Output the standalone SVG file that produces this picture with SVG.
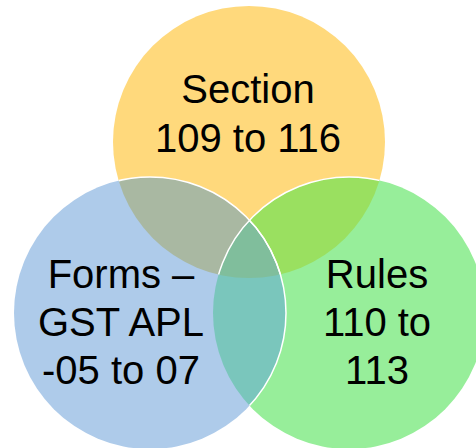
<svg xmlns="http://www.w3.org/2000/svg" width="476" height="448" viewBox="0 0 476 448">
  <style>
    .lbl { font-family: "Liberation Sans", Arial, sans-serif; font-size: 40px; fill: #000; text-anchor: middle; }
    .edge { fill: none; stroke: #fff; stroke-width: 1.5; }
  </style>
  <defs>
    <circle id="cTop" cx="249" cy="142" r="136"/>
    <circle id="cLeft" cx="150" cy="313" r="136"/>
    <circle id="cRight" cx="349" cy="313" r="136"/>
    <clipPath id="clipTop"><use href="#cTop"/></clipPath>
    <clipPath id="clipRight"><use href="#cRight"/></clipPath>
  </defs>
  <rect width="476" height="448" fill="#fff"/>

  <!-- base circles -->
  <g id="section">
    <use href="#cTop" fill="#FFD97C"/>
  </g>
  <g id="rules">
    <use href="#cRight" fill="#97EE9A"/>
  </g>
  <g id="forms">
    <use href="#cLeft" fill="#AECBEA"/>
  </g>

  <!-- overlap regions -->
  <g id="overlaps">
    <use href="#cRight" fill="#9AE060" clip-path="url(#clipTop)"/>
    <use href="#cLeft" fill="#A9B8A2" clip-path="url(#clipTop)"/>
    <use href="#cLeft" fill="#7AC6BC" clip-path="url(#clipRight)"/>
    <g clip-path="url(#clipTop)">
      <use href="#cLeft" fill="#80BE9C" clip-path="url(#clipRight)"/>
    </g>
  </g>

  <!-- outlines -->
  <g id="edges">
    <use href="#cRight" class="edge" clip-path="url(#clipTop)"/>
    <use href="#cLeft" class="edge" clip-path="url(#clipTop)"/>
    <use href="#cLeft" class="edge" clip-path="url(#clipRight)"/>
  </g>

  <!-- labels -->
  <g id="section-label">
    <text class="lbl" x="248" y="103">Section</text>
    <text class="lbl" x="248" y="152">109 to 116</text>
  </g>
  <g id="forms-label">
    <text class="lbl" x="121" y="288">Forms –</text>
    <text class="lbl" x="121" y="336">GST APL</text>
    <text class="lbl" x="121" y="384">-05 to 07</text>
  </g>
  <g id="rules-label">
    <text class="lbl" x="377" y="288">Rules</text>
    <text class="lbl" x="377" y="336">110 to</text>
    <text class="lbl" x="377" y="384">113</text>
  </g>
</svg>
